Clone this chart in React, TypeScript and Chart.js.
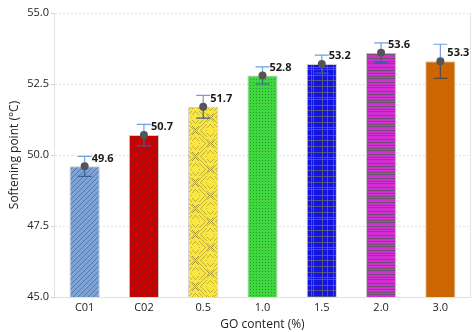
import React, { useEffect, useRef } from "react";
import { Chart, registerables } from "chart.js";

Chart.register(...registerables);

// GO content groups and measured softening points (°C)
const categories = ["C01", "C02", "0.5", "1.0", "1.5", "2.0", "3.0"];
const softeningPoint = [49.6, 50.7, 51.7, 52.8, 53.2, 53.6, 53.3];
const stdDev = [0.35, 0.38, 0.4, 0.3, 0.32, 0.35, 0.6];
const yTicks = [45.0, 47.5, 50.0, 52.5, 55.0];

const FONT = '"Open Sans", "Noto Sans", sans-serif';

function tile(w: number, h: number, draw: (c: CanvasRenderingContext2D) => void) {
  const cv = document.createElement("canvas");
  cv.width = w;
  cv.height = h;
  const c = cv.getContext("2d")!;
  draw(c);
  return cv;
}

function makePatterns(ctx: CanvasRenderingContext2D): (CanvasPattern | string)[] {
  const line = "rgba(60,60,70,0.55)";
  // diagonal hatch
  const hatch = (bg: string) =>
    tile(5, 5, (c) => {
      c.fillStyle = bg;
      c.fillRect(0, 0, 5, 5);
      c.strokeStyle = line;
      c.lineWidth = 0.8;
      c.beginPath();
      for (let k = -1; k <= 1; k++) {
        c.moveTo(k * 5, 5);
        c.lineTo(k * 5 + 5, 0);
      }
      c.stroke();
    });
  // concentric diamonds in a lattice
  const diamonds = tile(30, 26, (c) => {
    c.fillStyle = "#fae63c";
    c.fillRect(0, 0, 30, 26);
    c.fillStyle = "rgba(110,100,60,0.4)";
    for (let y = 0; y < 26; y++) {
      for (let x = 0; x < 30; x++) {
        const dx = Math.abs(x - 15) / 15;
        const dy = Math.abs(y - 13) / 13;
        const d = Math.round((dx + dy) * 13);
        if (d <= 13) {
          if (d % 3 === 0 && d > 0 && (x + y) % 2 === 0) c.fillRect(x, y, 1, 1);
        } else {
          const e = 26 - d;
          if (e % 3 === 0 && e > 0 && (x + y) % 2 === 0) c.fillRect(x, y, 1, 1);
        }
        if ((d === 13 || d === 12) && (x + y) % 2 === 0) c.fillRect(x, y, 1, 1);
      }
    }
  });
  // dot grid
  const dots = tile(3, 3, (c) => {
    c.fillStyle = "#3fd83f";
    c.fillRect(0, 0, 3, 3);
    c.fillStyle = "rgba(50,90,50,0.55)";
    c.fillRect(1, 1, 1, 1);
  });
  // plaid
  const plaid = tile(30, 30, (c) => {
    c.fillStyle = "#1414e2";
    c.fillRect(0, 0, 30, 30);
    c.fillStyle = "rgba(110,110,110,0.7)";
    [2, 7, 9, 15, 20, 26].forEach((p) => c.fillRect(0, p, 30, 1));
    [3, 11, 13, 22, 27].forEach((p) => c.fillRect(p, 0, 1, 30));
  });
  // horizontal stripes
  const stripes = tile(4, 24, (c) => {
    c.fillStyle = "#d22fd2";
    c.fillRect(0, 0, 4, 24);
    c.fillStyle = "rgba(90,90,90,0.8)";
    [1, 4, 6, 10, 13, 15, 19, 22].forEach((p) => c.fillRect(0, p, 4, 1));
  });
  const mk = (t: HTMLCanvasElement) => ctx.createPattern(t, "repeat")!;
  return [
    mk(hatch("#7ba4da")),
    mk(hatch("#cc0000")),
    mk(diamonds),
    mk(dots),
    mk(plaid),
    mk(stripes),
    "#cc6600",
  ];
}

// error bars, mean markers and value labels
const overlayPlugin = {
  id: "overlay",
  afterDatasetsDraw(chart: any) {
    const { ctx, scales } = chart;
    const x = scales.x;
    const y = scales.y;
    ctx.save();
    softeningPoint.forEach((v, i) => {
      const cx = x.getPixelForValue(i);
      const py = y.getPixelForValue(v);
      const top = y.getPixelForValue(v + stdDev[i]);
      const bot = y.getPixelForValue(v - stdDev[i]);
      const half = 7;
      ctx.lineWidth = 1.2;
      ctx.strokeStyle = "#6f9fdc";
      ctx.beginPath();
      ctx.moveTo(cx, py);
      ctx.lineTo(cx, top);
      ctx.moveTo(cx - half, top);
      ctx.lineTo(cx + half, top);
      ctx.stroke();
      ctx.strokeStyle = i === 6 ? "#5a4a40" : "#3a5f9a";
      ctx.beginPath();
      ctx.moveTo(cx, py);
      ctx.lineTo(cx, bot);
      ctx.moveTo(cx - half, bot);
      ctx.lineTo(cx + half, bot);
      ctx.stroke();
      ctx.fillStyle = "#555555";
      ctx.beginPath();
      ctx.arc(cx, py, 4, 0, Math.PI * 2);
      ctx.fill();
      ctx.fillStyle = "#1a1a1a";
      ctx.font = `bold 11px ${FONT}`;
      ctx.textAlign = "left";
      ctx.textBaseline = "middle";
      ctx.fillText(v.toFixed(1), cx + 7, py - 8);
    });
    // plot frame sides
    const area = chart.chartArea;
    ctx.strokeStyle = "#e3e3e3";
    ctx.lineWidth = 1;
    ctx.beginPath();
    ctx.moveTo(Math.round(area.right) + 0.5, area.top);
    ctx.lineTo(Math.round(area.right) + 0.5, area.bottom);
    ctx.moveTo(Math.round(area.left) - 0.5, area.top);
    ctx.lineTo(Math.round(area.left) - 0.5, area.bottom);
    ctx.stroke();
    ctx.restore();
  },
};

export default function App() {
  const ref = useRef<HTMLCanvasElement>(null);

  useEffect(() => {
    const canvas = ref.current!;
    const ctx = canvas.getContext("2d")!;
    const chart = new Chart(ctx, {
      type: "bar",
      data: {
        labels: categories,
        datasets: [
          {
            data: softeningPoint,
            backgroundColor: makePatterns(ctx) as any,
            borderColor: "rgba(200,200,200,0.9)",
            borderWidth: 1,
            barPercentage: 0.51,
            categoryPercentage: 1,
          },
        ],
      },
      options: {
        animation: false,
        responsive: false,
        layout: { padding: { top: 13, right: 3, left: 0, bottom: 0 } },
        plugins: { legend: { display: false }, tooltip: { enabled: false } },
        scales: {
          x: {
            grid: { display: false, drawTicks: true, tickLength: 4 },
            border: { color: "#e0e0e0" },
            ticks: { color: "#222", font: { family: FONT, size: 11 }, padding: 0 },
            title: {
              display: true,
              text: "GO content (%)",
              color: "#222",
              font: { family: FONT, size: 12 },
              padding: { top: 2, bottom: 0 },
            },
            afterFit: (s: any) => {
              s.height = 35;
            },
          },
          y: {
            min: 45,
            max: 55,
            afterBuildTicks: (s: any) => {
              s.ticks = yTicks.map((v) => ({ value: v }));
            },
            grid: {
              color: "#e2e2e2",
              tickLength: 4,
              tickColor: "#d0d0d0",
            },
            border: { display: false, dash: [2, 2] },
            ticks: {
              color: "#222",
              font: { family: FONT, size: 11 },
              padding: 2,
              callback: (v: any) => Number(v).toFixed(1),
            },
            title: {
              display: true,
              text: "Softening point (°C)",
              color: "#222",
              font: { family: FONT, size: 12 },
              padding: { top: 7, bottom: 0 },
            },
            afterFit: (s: any) => {
              s.width = 55;
            },
          },
        },
      },
      plugins: [overlayPlugin],
    });
    return () => chart.destroy();
  }, []);

  return (
    <div style={{ position: "fixed", left: 0, top: 0, width: 473, height: 332, background: "#fff" }}>
      <canvas ref={ref} width={473} height={332} style={{ display: "block" }} />
    </div>
  );
}
